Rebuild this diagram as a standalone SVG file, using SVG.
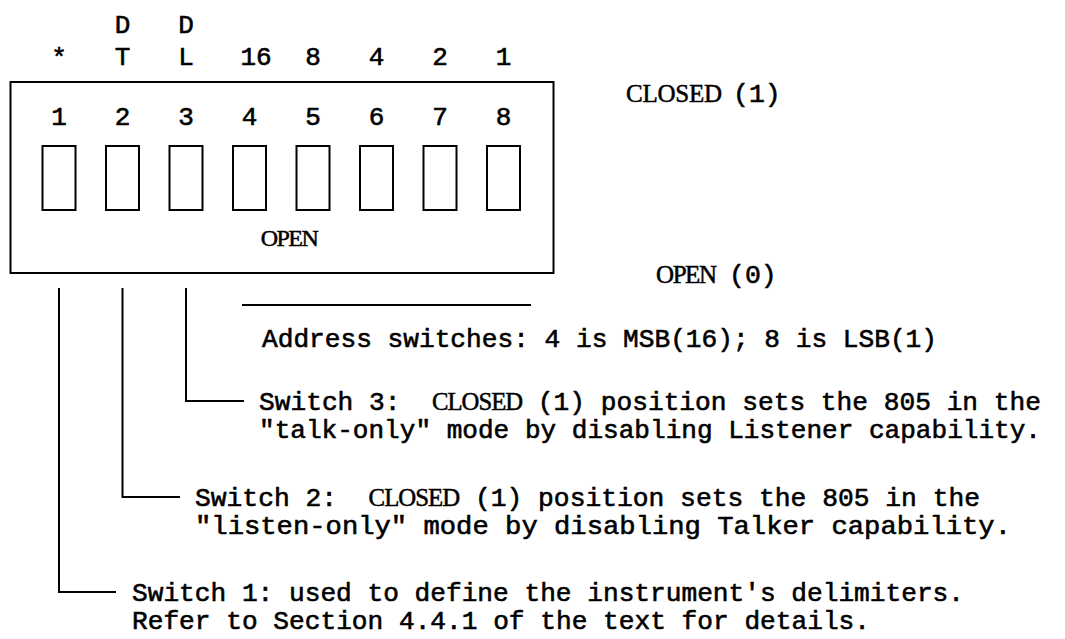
<svg xmlns="http://www.w3.org/2000/svg" width="1065" height="639" viewBox="0 0 1065 639">
<style>
.t{font-family:"Liberation Mono",monospace;font-size:26px;fill:#000;stroke:#000;stroke-width:0.6}
.b{font-family:"Liberation Mono",monospace;font-size:26.5px;fill:#000;stroke:#000;stroke-width:0.6}
.s{font-family:"Liberation Serif",serif;font-size:25px;letter-spacing:-1px;fill:#000;stroke:#000;stroke-width:0.5}
.c{text-anchor:middle}
.ln{fill:none;stroke:#000;stroke-width:2}
</style>
<rect width="1065" height="639" fill="#fff"/>
<g id="labels" class="t c">
<text x="122.5" y="33">D</text>
<text x="186" y="33">D</text>
<text x="59" y="66">*</text>
<text x="122.5" y="65">T</text>
<text x="186" y="65">L</text>
<text x="256" y="65">16</text>
<text x="313" y="65">8</text>
<text x="376.5" y="65">4</text>
<text x="440" y="65">2</text>
<text x="503.5" y="65">1</text>
</g>
<g id="switchblock">
<rect class="ln" x="10.5" y="82" width="543" height="191"/>
<g class="t c">
<text x="59" y="125">1</text>
<text x="122.5" y="125">2</text>
<text x="186" y="125">3</text>
<text x="249.5" y="125">4</text>
<text x="313" y="125">5</text>
<text x="376.5" y="125">6</text>
<text x="440" y="125">7</text>
<text x="503.5" y="125">8</text>
</g>
<rect class="ln" x="42.5" y="146" width="33" height="64"/>
<rect class="ln" x="106" y="146" width="33" height="64"/>
<rect class="ln" x="169.5" y="146" width="33" height="64"/>
<rect class="ln" x="233" y="146" width="33" height="64"/>
<rect class="ln" x="296.5" y="146" width="33" height="64"/>
<rect class="ln" x="360" y="146" width="33" height="64"/>
<rect class="ln" x="423.5" y="146" width="33" height="64"/>
<rect class="ln" x="487" y="146" width="33" height="64"/>
<text class="s c" x="289" y="246" style="font-size:24px;letter-spacing:-1.5px">OPEN</text>
</g>
<g id="legend">
<text class="s" x="626" y="102" textLength="95">CLOSED</text>
<text class="b" x="733" y="102">(1)</text>
<text class="s" x="656" y="283" textLength="60">OPEN</text>
<text class="b" x="729" y="283">(0)</text>
</g>
<g id="connectors">
<line class="ln" x1="242" y1="305" x2="531" y2="305"/>
<path class="ln" d="M186 288 V401 H244"/>
<path class="ln" d="M122.5 288 V497 H180"/>
<path class="ln" d="M59 288 V592 H116"/>
</g>
<g id="notes" class="b">
<text x="262" y="347" textLength="675" lengthAdjust="spacingAndGlyphs">Address switches: 4 is MSB(16); 8 is LSB(1)</text>
<text x="259" y="410" textLength="782" lengthAdjust="spacingAndGlyphs">Switch 3:&#160; <tspan class="s">CLOSED</tspan> (1) position sets the 805 in the</text>
<text x="259" y="438" textLength="782" lengthAdjust="spacingAndGlyphs">"talk-only" mode by disabling Listener capability.</text>
<text x="195" y="506" textLength="785" lengthAdjust="spacingAndGlyphs">Switch 2:&#160; <tspan class="s">CLOSED</tspan> (1) position sets the 805 in the</text>
<text x="195" y="534" textLength="816" lengthAdjust="spacingAndGlyphs">"listen-only" mode by disabling Talker capability.</text>
<text x="132" y="601" textLength="832" lengthAdjust="spacingAndGlyphs">Switch 1: used to define the instrument's delimiters.</text>
<text x="132" y="629" textLength="738" lengthAdjust="spacingAndGlyphs">Refer to Section 4.4.1 of the text for details.</text>
</g>
</svg>
